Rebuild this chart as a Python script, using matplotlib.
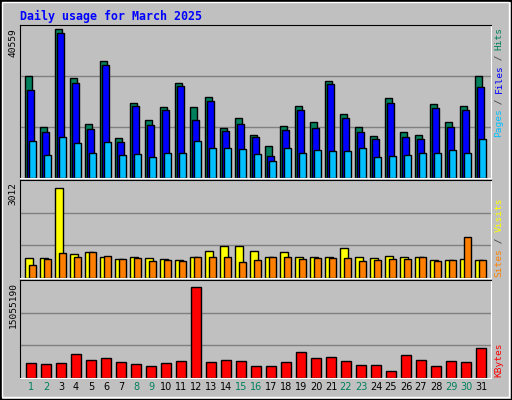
import matplotlib
matplotlib.use("Agg")
import matplotlib.pyplot as plt
from matplotlib.patches import Rectangle

days = list(range(1, 32))
hits = [27230,13700,39660,26680,14510,31280,10730,19920,15320,18840,25330,18840,21550,13430,15860,11540,
        8570,13970,19110,15050,25870,16950,13700,11270,21270,12350,11540,19650,14790,19110,27230]
files = [23430,12350,38580,25330,13160,30190,9650,19110,14240,18030,24520,15320,20460,12620,14510,11000,
         5870,12890,18030,13430,25060,15860,12350,10460,19920,11000,10460,18570,13700,18030,24250]
pages = [9920,6140,11000,9380,6680,9650,6140,6410,5600,6680,6680,9920,8030,8030,7760,6410,
         4520,8030,6680,7490,7220,7220,8030,5600,5870,6140,6680,6680,7490,6680,10460]
visits = [618,618,2843,773,834,649,587,680,618,587,556,680,865,1020,1020,865,
          649,834,649,649,649,958,649,618,711,680,680,556,556,587,556]
sites = [402,587,803,680,834,711,587,618,525,556,525,649,680,649,494,556,
         680,649,587,618,618,618,525,556,587,587,649,525,556,1298,556]
kbytes = [2.30e6,2.15e6,2.30e6,3.69e6,2.77e6,3.07e6,2.46e6,2.15e6,1.84e6,2.30e6,2.61e6,14.03e6,2.46e6,2.77e6,
          2.61e6,1.84e6,1.84e6,2.46e6,3.99e6,3.07e6,3.23e6,2.61e6,2.0e6,2.0e6,1.08e6,3.53e6,2.77e6,1.84e6,
          2.61e6,2.46e6,4.61e6]
weekend = {1,2,8,9,15,16,22,23,29,30}
max_hits, max_visits, max_kb = 40559, 3012, 15055190

W, H = 512, 400
fig = plt.figure(figsize=(W/100, H/100), dpi=100)
fig.patch.set_facecolor('#C0C0C0')
BG = '#C0C0C0'

def ax_px(x0, y0, x1, y1):
    return fig.add_axes([x0/W, 1-y1/H, (x1-x0)/W, (y1-y0)/H])

def style(ax, ymax):
    ax.set_facecolor(BG)
    ax.set_xlim(0.67, 32.07)
    ax.set_ylim(0, ymax)
    ax.set_xticks([]); ax.set_yticks([])
    for y in (ymax/3, 2*ymax/3):
        ax.axhline(y, color='#808080', lw=1, zorder=0)
    ax.spines['left'].set_color('black'); ax.spines['top'].set_color('black')
    ax.spines['right'].set_color('white'); ax.spines['bottom'].set_color('white')

ec = dict(edgecolor='black', linewidth=1, align='edge')
a1 = ax_px(20, 25, 491, 178)
style(a1, max_hits*1.005)
a1.bar([d for d in days], hits, width=0.49, color='#00805C', **ec)
a1.bar([d+0.13 for d in days], files, width=0.5, color='#0000FF', **ec)
a1.bar([d+0.27 for d in days], pages, width=0.49, color='#00C0FF', **ec)

a2 = ax_px(20, 180, 491, 278)
style(a2, max_visits*1.03)
a2.bar(days, visits, width=0.53, color='#FFFF00', **ec)
a2.bar([d+0.27 for d in days], sites, width=0.49, color='#FF8000', **ec)

a3 = ax_px(20, 280, 491, 378)
style(a3, max_kb*1.0)
a3.bar([d+0.07 for d in days], kbytes, width=0.67, color='#FF0000', **ec)

def ftext(x, y, s, **kw):
    fig.text(x/W, 1-y/H, s, **kw)

ftext(20, 16, 'Daily usage for March 2025', color='#0000FF', family='DejaVu Sans Mono',
      fontweight='bold', fontsize=8.4, va='center', ha='left')

for d in days:
    a3.text(d+0.4, -0.04, str(d), transform=a3.get_xaxis_transform(), ha='center', va='top',
            fontsize=7, color='#00805C' if d in weekend else 'black')

lbl = dict(rotation=90, family='DejaVu Sans Mono', fontsize=6.8, ha='center')
ftext(13, 28, '40559', va='top', color='black', **lbl)
ftext(13, 182, '3012', va='top', color='black', **lbl)
ftext(13, 282, '15055190', va='top', color='black', **lbl)

def rlabel(x, ybot, parts, ch):
    idx = 0
    for s, c in parts:
        if s.strip():
            ftext(x, ybot - idx*ch, s, va='bottom', color=c, **lbl)
        idx += len(s)

rlabel(499, 137, [('Pages', '#00C0FF'), (' / ', '#404040'), ('Files', '#0000FF'),
                  (' / ', '#404040'), ('Hits', '#00805C')], 5.45)
rlabel(499, 277, [('Sites', '#FF8000'), (' / ', '#404040'), ('Visits', '#FFFF00')], 5.6)
rlabel(499, 377, [('KBytes', '#FF0000')], 5.6)

fig.patches.append(Rectangle((0.5/W, 0.5/H), 1-1/W, 1-1/H, transform=fig.transFigure,
                             fill=False, edgecolor='black', lw=1.5))
fig.patches.append(Rectangle((2/W, 3/H), 1-5/W, 1-5/H, transform=fig.transFigure,
                             fill=False, edgecolor='white', lw=1))
fig.savefig('out.png', dpi=100, facecolor=fig.get_facecolor())
